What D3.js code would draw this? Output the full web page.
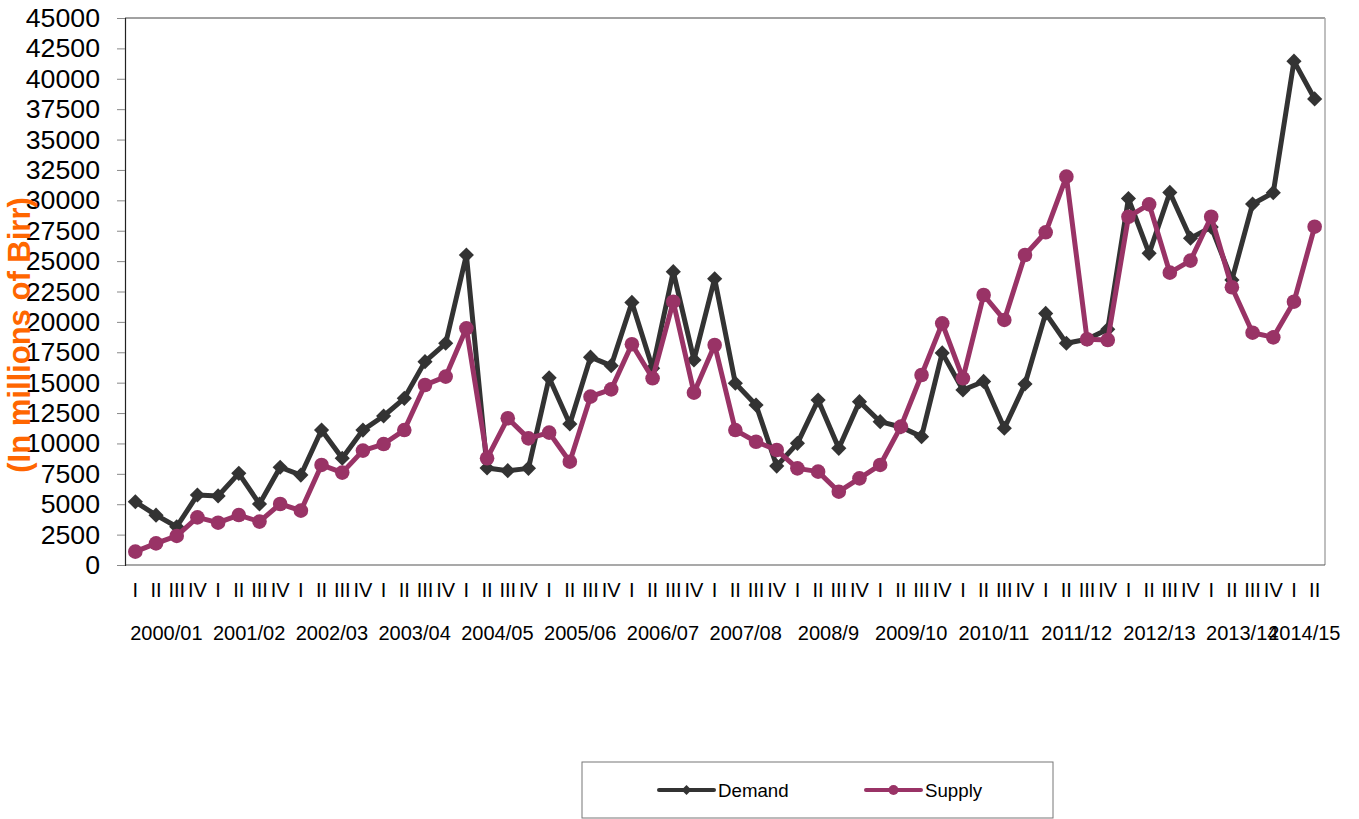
<!DOCTYPE html>
<html>
<head>
<meta charset="utf-8">
<script src="https://cdnjs.cloudflare.com/ajax/libs/d3/7.8.5/d3.min.js"></script>
<style>
  html, body { margin: 0; padding: 0; background: #fff; }
  svg { display: block; font-family: "Liberation Sans", Arial, sans-serif; }
</style>
</head>
<body>
<svg id="chart" width="1359" height="819"></svg>
<script>
// Fiscal years and the number of quarters shown for each
const fiscalYears = ["2000/01","2001/02","2002/03","2003/04","2004/05","2005/06","2006/07",
  "2007/08","2008/9","2009/10","2010/11","2011/12","2012/13","2013/14","2014/15"];
const quarterCounts = [4,4,4,4,4,4,4,4,4,4,4,4,4,4,2];
const quarterNames = ["I","II","III","IV"];

// Quarterly demand and supply (in millions of Birr)
const demand = [
  5200, 4100, 3150, 5760, 5680, 7540, 5020, 8040,
  7400, 11100, 8780, 11100, 12260, 13710, 16730, 18240,
  25500, 7980, 7760, 7950, 15400, 11600, 17100, 16400,
  21600, 16180, 24130, 16870, 23550, 14950, 13160, 8140,
  10010, 13570, 9600, 13440, 11790, 11350, 10560, 17450,
  14400, 15100, 11250, 14890, 20700, 18240, 18570, 19390,
  30150, 25640, 30650, 26880, 27800, 23450, 29700, 30630,
  41450, 38340
];
const supply = [
  1100, 1780, 2390, 3920, 3480, 4110, 3570, 5020,
  4470, 8230, 7600, 9410, 9950, 11100, 14810, 15500,
  19470, 8780, 12070, 10420, 10890, 8500, 13850, 14450,
  18160, 15360, 21660, 14180, 18100, 11100, 10140, 9460,
  7950, 7680, 6030, 7130, 8230, 11380, 15630, 19880,
  15360, 22210, 20160, 25500, 27370, 31950, 18570, 18510,
  28650, 29670, 24050, 25040, 28650, 22850, 19110, 18730,
  21660, 27830
];
const yTicks = [0,2500,5000,7500,10000,12500,15000,17500,20000,22500,
  25000,27500,30000,32500,35000,37500,40000,42500,45000];
const seriesNames = ["Demand", "Supply"];

// One category per quarter, grouped under its fiscal year
const categories = [];
fiscalYears.forEach((fy, i) => {
  for (let q = 0; q < quarterCounts[i]; q++) {
    categories.push({ key: fy + " " + quarterNames[q], year: fy, quarter: quarterNames[q] });
  }
});

const svg = d3.select("#chart");
const plot = { left: 125, top: 18, right: 1325, bottom: 565 };
const COLORS = { demand: "#333333", supply: "#993366" };

const x = d3.scaleBand()
  .domain(categories.map(d => d.key))
  .range([plot.left, plot.right])
  .padding(0);
const y = d3.scaleLinear().domain([0, 45000]).range([plot.bottom, plot.top]);
const cx = k => x(k) + x.bandwidth() / 2;

// Plot frame: dark top/left/bottom, light right edge
svg.append("line").attr("x1", plot.left).attr("x2", plot.right)
  .attr("y1", plot.top).attr("y2", plot.top).attr("stroke", "#444").attr("stroke-width", 1);
svg.append("line").attr("x1", plot.right).attr("x2", plot.right)
  .attr("y1", plot.top).attr("y2", plot.bottom).attr("stroke", "#aaa").attr("stroke-width", 1.5);
svg.append("line").attr("x1", plot.left).attr("x2", plot.right)
  .attr("y1", plot.bottom).attr("y2", plot.bottom).attr("stroke", "#555").attr("stroke-width", 1.2);

// Y axis
const yAxis = svg.append("g")
  .attr("transform", `translate(${plot.left},0)`)
  .call(d3.axisLeft(y).tickValues(yTicks).tickSize(8).tickPadding(17).tickFormat(d3.format("d")));
yAxis.select(".domain").attr("stroke", "#222").attr("stroke-width", 1.2);
yAxis.selectAll(".tick line").attr("stroke", "#888");
yAxis.selectAll(".tick text")
  .attr("font-family", "Liberation Sans, Arial, sans-serif")
  .attr("font-size", 26.7).attr("fill", "#000");

// Quarter labels
const xAxis = svg.append("g")
  .attr("transform", `translate(0,${plot.bottom})`)
  .call(d3.axisBottom(x).tickSize(0).tickPadding(18)
    .tickFormat(k => categories.find(c => c.key === k).quarter));
xAxis.select(".domain").remove();
xAxis.selectAll(".tick text")
  .attr("font-family", "Liberation Sans, Arial, sans-serif")
  .attr("font-size", 20).attr("fill", "#000");

// Fiscal-year labels centred under their quarters
const yearGroups = d3.groups(categories, d => d.year);
svg.append("g").selectAll("text")
  .data(yearGroups)
  .join("text")
  .attr("x", ([, qs]) => (x(qs[0].key) + x(qs[qs.length - 1].key) + x.bandwidth()) / 2)
  .attr("y", 640)
  .attr("text-anchor", "middle")
  .attr("font-size", 20)
  .attr("fill", "#000")
  .text(([yr]) => yr);

// Y axis title
svg.append("text")
  .attr("transform", "translate(30,335) rotate(-90)")
  .attr("text-anchor", "middle")
  .attr("font-size", 31)
  .attr("font-weight", "bold")
  .attr("fill", "#ff6600")
  .text("(In millions of Birr)");

// Series
const line = d3.line().x((d, i) => cx(categories[i].key)).y(d => y(d));

svg.append("path").datum(demand)
  .attr("fill", "none").attr("stroke", COLORS.demand)
  .attr("stroke-width", 5).attr("stroke-linejoin", "round")
  .attr("d", line);
svg.append("g").selectAll("path")
  .data(demand)
  .join("path")
  .attr("d", d3.symbol().type(d3.symbolSquare).size(115))
  .attr("fill", COLORS.demand)
  .attr("transform", (d, i) => `translate(${cx(categories[i].key)},${y(d)}) rotate(45)`);

svg.append("path").datum(supply)
  .attr("fill", "none").attr("stroke", COLORS.supply)
  .attr("stroke-width", 5).attr("stroke-linejoin", "round")
  .attr("d", line);
svg.append("g").selectAll("circle")
  .data(supply)
  .join("circle")
  .attr("cx", (d, i) => cx(categories[i].key))
  .attr("cy", d => y(d))
  .attr("r", 7.3)
  .attr("fill", COLORS.supply);

// Legend
const legend = svg.append("g");
legend.append("rect")
  .attr("x", 582).attr("y", 762).attr("width", 471).attr("height", 56)
  .attr("fill", "#fff").attr("stroke", "#777").attr("stroke-width", 1);
const legendItems = [
  { name: seriesNames[0], color: COLORS.demand, x0: 659, marker: "diamond" },
  { name: seriesNames[1], color: COLORS.supply, x0: 866, marker: "circle" }
];
legendItems.forEach(it => {
  const g = legend.append("g");
  g.append("line").attr("x1", it.x0).attr("x2", it.x0 + 55)
    .attr("y1", 790).attr("y2", 790)
    .attr("stroke", it.color).attr("stroke-width", 4).attr("stroke-linecap", "round");
  if (it.marker === "diamond") {
    g.append("path")
      .attr("d", d3.symbol().type(d3.symbolSquare).size(50))
      .attr("transform", `translate(${it.x0 + 27.5},790) rotate(45)`)
      .attr("fill", it.color);
  } else {
    g.append("circle").attr("cx", it.x0 + 27.5).attr("cy", 790).attr("r", 5).attr("fill", it.color);
  }
  g.append("text").attr("x", it.x0 + 59).attr("y", 790).attr("dy", "0.35em")
    .attr("font-size", 18.7).attr("fill", "#000").text(it.name);
});
</script>
</body>
</html>
